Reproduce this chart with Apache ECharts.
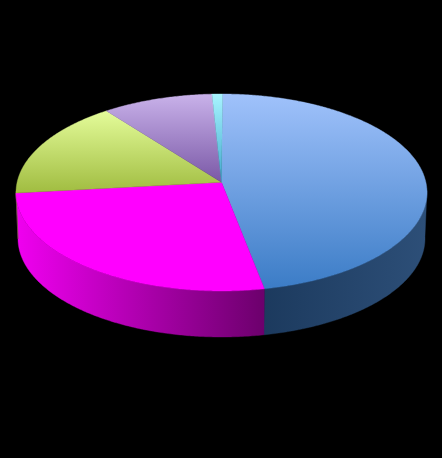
<!DOCTYPE html>
<html><head><meta charset="utf-8">
<style>html,body{margin:0;padding:0;background:#000}#c{width:442px;height:458px}</style>
<script src="https://cdn.jsdelivr.net/npm/echarts@6/dist/echarts.min.js"></script>
</head><body><div id="c"></div>
<script>
// data, clockwise from the top
var categories = ['A','B','C','D','E'];
var shares = [46.9, 26.3, 16.3, 9.6, 0.9];
var topStops = [['#a0c2fb','#3b7cc6'],['#ff00ff','#ff00ff'],['#e4fc9a','#a0bc40'],['#c9b2ea','#7a58a6'],['#a8f4ff','#3fa8cc']];
var wallStops = [['#1c3a5e','#2d4f78'],['#f000f0','#6c006c'],['#5a6e20','#5a6e20'],['#452f60','#452f60'],['#206070','#206070']];

var START_DEG = 0.3, PERSP = -0.103;
var CX = 221.5, CY = 192.5, RX = 205.5, RY = 98.5;
var BX = 221.5, BY = 238.5, BRX = 203.5, BRY = 98.5;
var total = shares.reduce(function (a, b) { return a + b; }, 0);

function project(deg) { // disc angle -> unit ellipse coordinates with perspective
  var t = deg * Math.PI / 180, u = Math.sin(t), v = -Math.cos(t);
  var d = 1 + PERSP * v, s = Math.sqrt(1 - PERSP * PERSP);
  return [u * s / d, (v + PERSP) / d];
}
function range(i) {
  var before = 0;
  for (var k = 0; k < i; k++) before += shares[k];
  return [START_DEG + before / total * 360, START_DEG + (before + shares[i]) / total * 360];
}
function grad(st, horizontal) {
  return { type: 'linear', x: 0, y: 0, x2: horizontal ? 1 : 0, y2: horizontal ? 0 : 1,
    colorStops: [{ offset: 0, color: st[0] }, { offset: 1, color: st[1] }] };
}
function arc(r, step) {
  var out = [];
  for (var a = r[0]; a < r[1]; a += step) out.push(project(a));
  out.push(project(r[1]));
  return out;
}
function renderTop(params, api) {
  var i = params.dataIndex, pts = [[CX, CY + PERSP * RY]];
  arc(range(i), 0.5).forEach(function (p) { pts.push([CX + RX * p[0], CY + RY * p[1]]); });
  var c = grad(topStops[i]);
  return { type: 'polygon', shape: { points: pts }, style: { fill: c, stroke: c, lineWidth: 0.4 } };
}
function renderWall(params, api) {
  var i = params.dataIndex;
  var front = arc(range(i), 0.5).filter(function (p) { return p[1] >= -0.02; });
  if (front.length < 2) return null;
  var up = front.map(function (p) { return [CX + RX * p[0], CY + RY * p[1]]; });
  var down = front.map(function (p) { return [BX + BRX * p[0], BY + BRY * p[1]]; }).reverse();
  var c = grad(wallStops[i], true);
  return { type: 'polygon', shape: { points: up.concat(down) }, style: { fill: c, stroke: c, lineWidth: 0.4 } };
}
var chart = echarts.init(document.getElementById('c'));
chart.setOption({
  backgroundColor: '#000000',
  animation: false,
  series: [
    { type: 'custom', coordinateSystem: 'none', renderItem: renderWall, z: 1, data: shares, silent: true },
    { type: 'custom', coordinateSystem: 'none', renderItem: renderTop, z: 2, data: shares, silent: true }
  ]
});
</script></body></html>
